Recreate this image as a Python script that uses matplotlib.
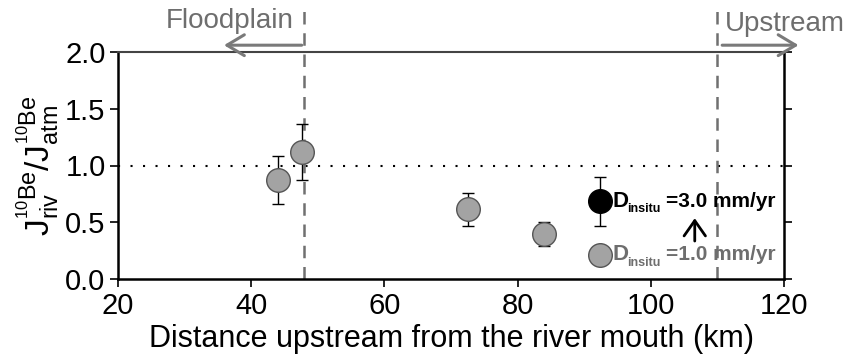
import matplotlib.pyplot as plt

plt.rcParams['font.family'] = ['Liberation Sans', 'DejaVu Sans']
plt.rcParams['mathtext.fontset'] = 'custom'
plt.rcParams['mathtext.rm'] = 'Liberation Sans'
plt.rcParams['mathtext.it'] = 'Liberation Sans'
plt.rcParams['mathtext.bf'] = 'Liberation Sans:bold'

# gray points (D_insitu = 1.0 mm/yr)
dist = [44.0, 47.6, 72.6, 83.9]
ratio = [0.87, 1.12, 0.615, 0.395]
err_lo = [0.21, 0.25, 0.15, 0.105]
err_hi = [0.21, 0.25, 0.14, 0.105]

# black point (D_insitu = 3.0 mm/yr)
dist_hi = [92.4]
ratio_hi = [0.685]
err_hi_lo = [0.22]
err_hi_hi = [0.215]

# legend-like gray marker
leg_x = [92.4]
leg_y = [0.215]

floodplain_x = 48
upstream_x = 110

fig = plt.figure(figsize=(8.51, 3.57), dpi=100)
ax = fig.add_axes([118 / 851, 1 - 279 / 357, 666 / 851, 227 / 357])

gray = '#a3a3a3'
ax.axhline(1.0, color='black', ls=(0, (1, 5)), lw=1.5, zorder=1)
for xv in [floodplain_x, upstream_x]:
    ax.plot([xv, xv], [0, 2.38], color='#707070', ls=(0, (5, 3.5)), lw=1.8,
            clip_on=False, zorder=1)

ax.errorbar(dist, ratio, yerr=[err_lo, err_hi], fmt='o', ms=17, mfc=gray,
            mec='#555555', mew=1, ecolor='black', elinewidth=1, capsize=4.5,
            zorder=3)
ax.errorbar(dist_hi, ratio_hi, yerr=[err_hi_lo, err_hi_hi], fmt='o', ms=17,
            mfc='black', mec='black', ecolor='black', elinewidth=1, capsize=4.5,
            zorder=3)
ax.plot(leg_x, leg_y, 'o', ms=17, mfc=gray, mec='#555555', mew=1, zorder=3)

# labels for the two erosion rates
for yv, val, col in [(0.685, '=3.0 mm/yr', 'black'), (0.215, '=1.0 mm/yr', '#6e6e6e')]:
    ax.text(94.2, yv, 'D', fontsize=16, fontweight='bold', va='center',
            ha='left', color=col)
    ax.text(96.4, yv - 0.07, 'insitu', fontsize=9, fontweight='bold',
            va='center', ha='left', color=col)
    ax.text(102.3, yv, val, fontsize=15, fontweight='bold', va='center',
            ha='left', color=col)

ax.annotate('', xy=(106.6, 0.56), xytext=(106.6, 0.31),
            arrowprops=dict(arrowstyle='->,head_length=0.5,head_width=0.35',
                            color='black', lw=2, mutation_scale=22))

# region arrows above the plot
ax.annotate('', xy=(35.5, 2.06), xytext=(48, 2.06), annotation_clip=False,
            arrowprops=dict(arrowstyle='->,head_length=0.5,head_width=0.3',
                            color='#7a7a7a', lw=2.2, mutation_scale=25))
ax.annotate('', xy=(122.6, 2.06), xytext=(110.3, 2.06), annotation_clip=False,
            arrowprops=dict(arrowstyle='->,head_length=0.5,head_width=0.3',
                            color='#7a7a7a', lw=2.2, mutation_scale=25))
ax.text(36.8, 2.27, 'Floodplain', fontsize=20, color='#6e6e6e', ha='center',
        va='center')
ax.text(120.2, 2.25, 'Upstream', fontsize=20, color='#6e6e6e', ha='center',
        va='center')

ax.set_xlim(20, 120)
ax.set_ylim(0, 2.0)
ax.set_xticks([20, 40, 60, 80, 100, 120])
ax.set_yticks([0, 0.5, 1.0, 1.5, 2.0])
ax.set_yticklabels(['0.0', '0.5', '1.0', '1.5', '2.0'])
ax.tick_params(axis='both', direction='out', length=6, width=1.2,
               labelsize=21, pad=3)
ax.tick_params(axis='y', right=True, labelright=False)
for s in ['left', 'bottom', 'right']:
    ax.spines[s].set_linewidth(1.8)
ax.spines['top'].set_linewidth(1.5)
ax.spines['top'].set_color('#444444')

ax.set_xlabel('Distance upstream from the river mouth (km)', fontsize=22,
              labelpad=3)
ax.set_ylabel(r'J$_{\mathregular{riv}}^{^{10}\mathregular{Be}}$/J$_{\mathregular{atm}}^{^{10}\mathregular{Be}}$',
              fontsize=24, labelpad=2)

fig.savefig('out.png', dpi=100)
